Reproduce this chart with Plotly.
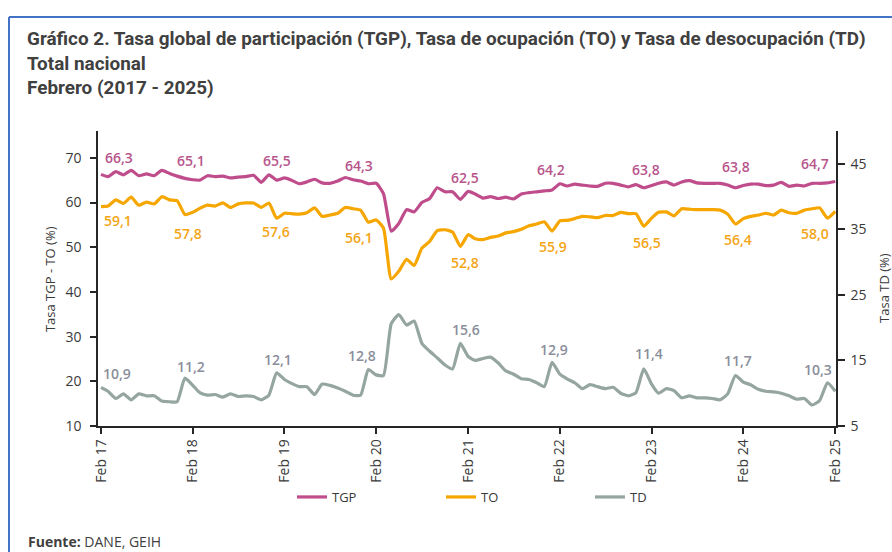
import pandas as pd
import plotly.graph_objects as go

# ---------------- data (monthly, Feb 2017 - Feb 2025) ----------------
months = pd.date_range("2017-02-01", "2025-02-01", freq="MS")

tgp = [66.3, 65.8, 66.9, 66.2, 67.2, 66.0, 66.4, 66.0, 67.2, 66.5, 65.9, 65.4,
       65.1, 65.0, 66.0, 65.8, 65.9, 65.5, 65.7, 65.8, 66.1, 64.5, 66.2, 65.0,
       65.5, 65.0, 64.2, 64.6, 65.2, 64.4, 64.3, 64.8, 65.6, 65.1, 64.8, 64.2,
       64.3, 62.0, 53.6, 55.3, 58.4, 57.9, 60.0, 60.9, 63.3, 62.4, 62.4, 60.7,
       62.5, 61.9, 61.0, 61.3, 60.9, 61.2, 60.8, 61.9, 62.2, 62.4, 62.6, 62.8,
       64.2, 63.7, 64.1, 63.9, 63.7, 63.6, 64.3, 64.3, 63.9, 63.5, 64.0, 63.3,
       63.8, 64.3, 64.6, 63.9, 64.6, 64.9, 64.4, 64.3, 64.3, 64.3, 63.9, 63.3,
       63.8, 64.1, 64.1, 63.8, 63.9, 64.5, 63.6, 63.9, 63.7, 64.3, 64.3, 64.4,
       64.7]

to = [59.1, 59.2, 60.6, 59.8, 61.2, 59.4, 60.1, 59.7, 61.3, 60.6, 60.4, 57.3,
      57.8, 58.7, 59.4, 59.2, 59.9, 58.9, 59.7, 59.9, 59.9, 58.9, 59.9, 56.5,
      57.6, 57.5, 57.4, 57.7, 58.8, 56.9, 57.2, 57.6, 58.9, 58.6, 58.3, 55.6,
      56.1, 54.3, 42.9, 44.6, 47.3, 45.9, 49.8, 51.3, 53.7, 53.9, 53.4, 50.2,
      52.8, 51.9, 51.7, 52.2, 52.5, 53.2, 53.5, 54.0, 54.8, 55.2, 55.7, 53.6,
      55.9, 56.0, 56.4, 56.9, 56.8, 56.6, 57.1, 57.1, 57.8, 57.5, 57.5, 54.7,
      56.5, 57.8, 57.9, 57.0, 58.6, 58.5, 58.4, 58.4, 58.4, 58.3, 57.4, 55.2,
      56.4, 56.9, 57.2, 57.6, 57.2, 58.3, 57.7, 57.6, 58.3, 58.6, 58.8, 56.5,
      58.0]

td = [10.9, 10.3, 9.2, 9.9, 9.0, 9.9, 9.6, 9.6, 8.8, 8.7, 8.7, 12.3,
      11.2, 10.1, 9.7, 9.8, 9.4, 9.9, 9.5, 9.6, 9.5, 9.0, 9.7, 13.1,
      12.1, 11.5, 11.0, 11.0, 9.8, 11.4, 11.2, 10.8, 10.3, 9.7, 9.7, 13.6,
      12.8, 12.7, 20.6, 22.0, 20.4, 21.0, 17.6, 16.4, 15.4, 14.3, 13.7, 17.6,
      15.6, 15.0, 15.3, 15.5, 14.6, 13.4, 12.9, 12.2, 12.1, 11.6, 11.0, 14.7,
      12.9, 12.2, 11.6, 10.7, 11.3, 11.0, 10.7, 10.9, 10.0, 9.6, 10.1, 13.7,
      11.4, 10.0, 10.7, 10.4, 9.3, 9.6, 9.3, 9.3, 9.2, 9.0, 9.9, 12.7,
      11.7, 11.3, 10.6, 10.3, 10.2, 10.0, 9.6, 9.1, 9.2, 8.2, 8.9, 11.6,
      10.3]

left_ticks = [10, 20, 30, 40, 50, 60, 70]
right_ticks = [5, 15, 25, 35, 45]

# ---------------- styles ----------------
C_TGP, C_TO, C_TD = "#BF4D8B", "#F6A600", "#95A59F"
L_TGP, L_TO, L_TD = "#B8558D", "#F3A516", "#8A8E9B"
TXT = "#3A3A3A"
FONT = "Open Sans"

feb_idx = list(range(0, len(months), 12))
# label pixel offsets (dx, dy) relative to each February point
tgp_off = [(18, 17), (-2, 19), (-7, 17), (-17, 18), (-3, 14), (-9, 14), (-6, 16), (-7, 19), (-20, 18)]
to_off = [(17, -14), (-5, -21), (-8, -18), (-17, -18), (-3, -28), (-7, -26), (-5, -24), (-5, -21), (-20, -22)]
td_off = [(16, 14), (-2, 19), (-6, 20), (-14, 19), (-2, 27), (-6, 25), (-3, 31), (-5, 22), (-17, 22)]

fig = go.Figure()
for name, ys, col, ax in [("TGP", tgp, C_TGP, "y"), ("TO", to, C_TO, "y"), ("TD", td, C_TD, "y2")]:
    fig.add_trace(go.Scatter(x=months, y=ys, name=name, mode="lines", yaxis=ax,
                             line=dict(color=col, width=3.2, shape="spline", smoothing=0.5)))

ann = []
for ys, offs, col, yref in [(tgp, tgp_off, L_TGP, "y"), (to, to_off, L_TO, "y"), (td, td_off, L_TD, "y2")]:
    for k, i in enumerate(feb_idx):
        ann.append(dict(x=months[i], y=ys[i], xref="x", yref=yref,
                        text=f"{ys[i]:.1f}".replace(".", ","), showarrow=False,
                        xanchor="center", yanchor="middle",
                        xshift=offs[k][0], yshift=offs[k][1],
                        font=dict(family=FONT, size=14, color=col, weight=600)))

# axis titles
ann.append(dict(text="Tasa TGP - TO (%)", xref="paper", yref="paper", x=(50 - 98) / 738, y=0.498,
                xanchor="center", yanchor="middle",
                textangle=-90, showarrow=False, font=dict(family=FONT, size=13, color=TXT)))
ann.append(dict(text="Tasa TD (%)", xref="paper", yref="paper", x=(884 - 98) / 738, y=0.468,
                xanchor="center", yanchor="middle",
                textangle=-90, showarrow=False, font=dict(family=FONT, size=13, color=TXT)))

# title & source
ann.append(dict(text="<b>Gráfico 2. Tasa global de participación (TGP), Tasa de ocupación (TO) y Tasa de desocupación (TD)<br>"
                     "Total nacional<br>Febrero (2017 - 2025)</b>",
                xref="paper", yref="paper", x=(25 - 98) / 738, y=(426 - 25) / 295,
                xanchor="left", yanchor="top", align="left", showarrow=False,
                font=dict(family="Roboto", size=18.9, color="#404040")))
ann.append(dict(text="<b>Fuente:</b> DANE, GEIH", xref="paper", yref="paper",
                x=(26 - 98) / 738, y=(426 - 541) / 295, xanchor="left", yanchor="middle",
                showarrow=False, font=dict(family=FONT, size=14, color="#404040")))

shapes = [
    dict(type="line", xref="paper", yref="paper", x0=(9 - 98) / 738, x1=(900 - 98) / 738,
         y0=(426 - 17) / 295, y1=(426 - 17) / 295, line=dict(color="#4472C4", width=2)),
    dict(type="line", xref="paper", yref="paper", x0=(9 - 98) / 738, x1=(9 - 98) / 738,
         y0=(426 - 17) / 295, y1=(426 - 560) / 295, line=dict(color="#4472C4", width=2)),
]

axis_common = dict(showgrid=False, zeroline=False, showline=True, linecolor="#262626", linewidth=1.5,
                   ticks="outside", tickcolor="#262626", tickwidth=1.5, automargin=False,
                   tickfont=dict(family=FONT, size=14, color=TXT))

fig.update_layout(
    width=892, height=552,
    margin=dict(l=98, r=56, t=131, b=126, autoexpand=False),
    paper_bgcolor="white", plot_bgcolor="white",
    showlegend=True,
    legend=dict(orientation="h", x=(292 - 98) / 738, xanchor="left", y=(426 - 497) / 295, yanchor="middle",
                font=dict(family=FONT, size=13, color=TXT), entrywidth=104, entrywidthmode="pixels",
                bgcolor="rgba(0,0,0,0)"),
    xaxis=dict(type="date", range=["2017-01-20", "2025-02-04"], tickformat="%b %y", dtick="M12",
               tick0="2017-02-01", tickangle=-90, ticklen=6, **axis_common),
    yaxis=dict(range=[10, 76], tickvals=left_ticks, ticklen=6, ticklabelstandoff=6, **axis_common),
    yaxis2=dict(range=[5, 50], tickvals=right_ticks, overlaying="y", side="right", ticklen=7,
                ticklabelstandoff=3, **axis_common),
    annotations=ann, shapes=shapes,
)

fig.write_html("out.html", config={"displayModeBar": False},
               post_script="document.body.style.margin='0';document.body.style.overflow='hidden';")
